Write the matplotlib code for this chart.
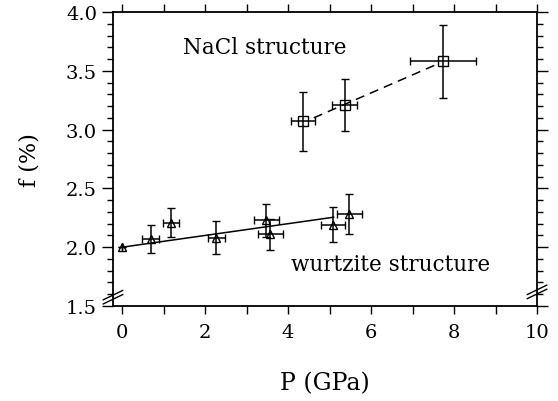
import numpy as np
import matplotlib
matplotlib.use('Agg')
import matplotlib.pyplot as plt
from matplotlib.ticker import MultipleLocator

plt.rcParams['font.family'] = ['DejaVu Serif']

# wurtzite structure (triangles)
wz_p = [0.0, 0.69, 1.18, 2.27, 3.47, 3.57, 5.08, 5.48]
wz_f = [2.00, 2.07, 2.21, 2.08, 2.23, 2.11, 2.19, 2.28]
wz_perr = [0.0, 0.20, 0.19, 0.20, 0.30, 0.30, 0.29, 0.30]
wz_ferr = [0.0, 0.12, 0.12, 0.14, 0.14, 0.13, 0.15, 0.17]

# NaCl structure (squares)
nacl_p = [4.36, 5.36, 7.74]
nacl_f = [3.07, 3.21, 3.58]
nacl_perr = [0.30, 0.29, 0.80]
nacl_ferr = [0.25, 0.22, 0.31]

# fitted lines
wz_fit_p = [0.0, 5.1]
wz_fit_f = [2.0, 2.255]
nacl_fit_p = [4.62, 7.65]
nacl_fit_f = [3.10, 3.565]

fig = plt.figure(figsize=(5.58, 4.02), dpi=100)
ax = fig.add_axes([0.2025, 0.2363, 0.7599, 0.7314])

ax.plot(wz_fit_p, wz_fit_f, '-', color='black', lw=1.1)
ax.plot(nacl_fit_p, nacl_fit_f, '--', color='black', lw=1.1, dashes=(6, 4))

ax.errorbar(wz_p, wz_f, xerr=wz_perr, yerr=wz_ferr, fmt='^', ms=6,
            mfc='none', mec='black', mew=1.0, ecolor='black', elinewidth=1.1,
            capsize=2.8, capthick=1.1)
ax.errorbar(nacl_p, nacl_f, xerr=nacl_perr, yerr=nacl_ferr, fmt='s', ms=6.5,
            mfc='none', mec='black', mew=1.0, ecolor='black', elinewidth=1.1,
            capsize=3, capthick=1.1)

ax.text(1.47, 3.70, 'NaCl structure', fontsize=15.5, va='center', ha='left')
ax.text(4.07, 1.857, 'wurtzite structure', fontsize=15.5, va='center', ha='left')

ax.set_xlim(-0.22, 10)
ax.set_ylim(1.5, 4.0)
ax.xaxis.set_major_locator(MultipleLocator(2))
ax.xaxis.set_minor_locator(MultipleLocator(1))
ax.yaxis.set_major_locator(MultipleLocator(0.5))
ax.yaxis.set_minor_locator(MultipleLocator(0.1))
ax.xaxis.set_major_formatter(plt.FormatStrFormatter('%d'))
ax.yaxis.set_major_formatter(plt.FormatStrFormatter('%.1f'))

ax.tick_params(axis='both', which='both', direction='out', width=1.0,
               top=True, right=True, labelsize=14)
ax.tick_params(axis='x', which='both', length=6, pad=6)
ax.tick_params(axis='y', which='major', length=8)
ax.tick_params(axis='y', which='minor', length=4)
for s in ax.spines.values():
    s.set_linewidth(1.3)

ax.set_xlabel('P (GPa)', fontsize=17, labelpad=22)
ax.set_ylabel('f (%)', fontsize=16, labelpad=18)

# axis break marks
for xa, yc in ((0.0, 0.03), (1.0, 0.048)):
    for dy in (-0.007, 0.007):
        ax.plot([xa - 0.023, xa + 0.023], [yc + dy - 0.016, yc + dy + 0.016],
                transform=ax.transAxes, color='black', lw=1.0, clip_on=False)

fig.savefig('out.png', dpi=100)
